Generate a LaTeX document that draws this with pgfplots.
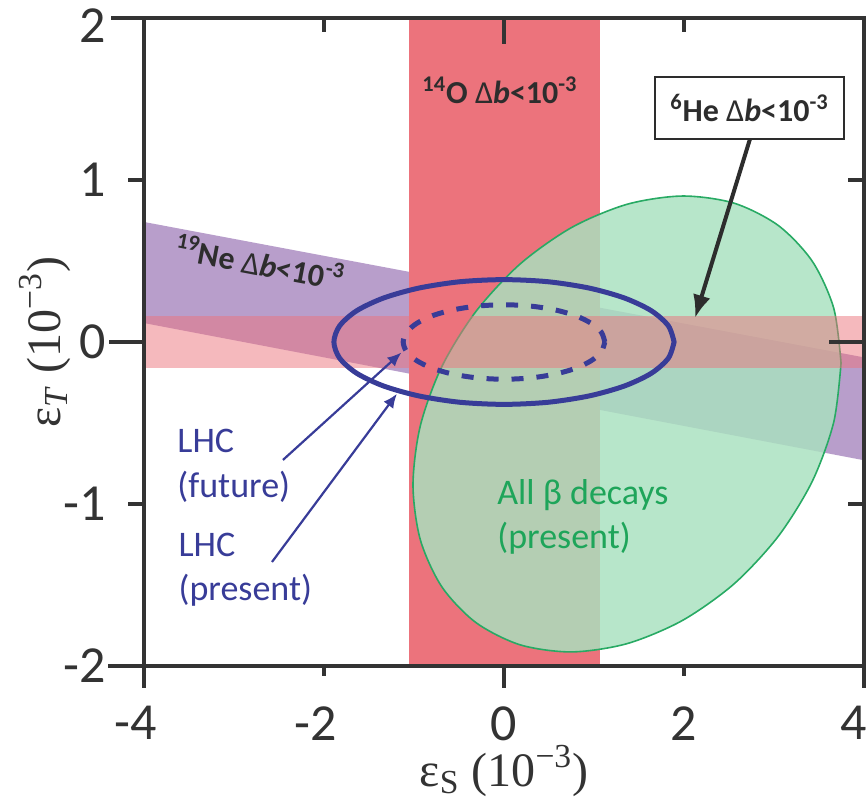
\documentclass[border=0pt]{standalone}
\usepackage{fontspec}
\setmainfont{Carlito}
\newfontfamily\serif{Liberation Serif}
\usepackage{pgfplots}
\pgfplotsset{compat=1.18}
\usetikzlibrary{arrows.meta}
\definecolor{axgray}{RGB}{51,51,51}
\definecolor{bandpurple}{RGB}{184,158,203}
\definecolor{bandred}{RGB}{236,115,124}
\definecolor{ellgreen}{RGB}{169,225,191}
\definecolor{ellgreenline}{RGB}{40,170,100}
\definecolor{lhcblue}{RGB}{56,60,152}
\definecolor{textgreen}{RGB}{30,165,90}
\definecolor{labelgray}{RGB}{45,45,45}
\begin{document}
\begin{tikzpicture}
\begin{axis}[
  name=ax, at={(0,0)}, anchor=south west,
  scale only axis, width=360pt, height=324pt,
  xmin=-4, xmax=4, ymin=-2, ymax=2,
  axis line style={line width=2.4pt, draw=axgray},
  major tick length=0pt,
  xtick={-4,-2,0,2,4}, xticklabels={\llap{-}4,\llap{-}2,0,2,\kern-10pt 4},
  ytick={-2,-1,0,1,2}, yticklabels={-2,-1,0,1,\raisebox{-4pt}[\height][0pt]{2}},
  ticklabel style={font=\fontsize{26}{26}\selectfont, text=axgray},
  xticklabel style={anchor=north, inner sep=0pt, yshift=-20pt},
  yticklabel style={anchor=east, inner sep=0pt, xshift=-19pt},
  clip=false,
  axis on top,
]
% 19Ne band
\addplot[draw=none, fill=bandpurple] coordinates {(-4,0.741) (4,-0.095) (4,-0.73) (-4,0.117)} -- cycle;
% 14O band
\addplot[draw=none, fill=bandred] coordinates {(-1.06,-2) (1.07,-2) (1.07,2) (-1.06,2)} -- cycle;
% All beta decays ellipse
\addplot[fill=ellgreen, fill opacity=0.83, draw=ellgreenline, line width=0.8pt, smooth] coordinates {
(3.745,-0.130) (3.664,0.208) (3.426,0.498) (3.048,0.719) (2.556,0.857) (1.982,0.901)
(1.367,0.850) (0.752,0.707) (0.178,0.481) (-0.314,0.187) (-0.692,-0.153) (-0.930,-0.518)
(-1.011,-0.882) (-0.930,-1.220) (-0.692,-1.510) (-0.314,-1.731) (0.178,-1.869) (0.752,-1.913)
(1.367,-1.862) (1.982,-1.719) (2.556,-1.493) (3.048,-1.199) (3.426,-0.859) (3.664,-0.494)
(3.745,-0.130)} -- cycle;
% 6He band
\addplot[draw=none, fill=bandred, fill opacity=0.5] coordinates {(-4,-0.16) (4,-0.16) (4,0.16) (-4,0.16)} -- cycle;
% LHC present
\addplot[lhcblue, line width=2.5pt, smooth] coordinates {
(1.890,0) (1.826,0.100) (1.637,0.193) (1.336,0.272) (0.945,0.333) (0.489,0.372) (0,0.385)
(-0.489,0.372) (-0.945,0.333) (-1.336,0.272) (-1.637,0.193) (-1.826,0.100) (-1.890,0)
(-1.826,-0.100) (-1.637,-0.193) (-1.336,-0.272) (-0.945,-0.333) (-0.489,-0.372) (0,-0.385)
(0.489,-0.372) (0.945,-0.333) (1.336,-0.272) (1.637,-0.193) (1.826,-0.100) (1.890,0)} -- cycle;
% LHC future
\addplot[lhcblue, line width=2.5pt, smooth, dash pattern=on 6pt off 6.5pt] coordinates {
(1.120,0) (1.082,0.060) (0.970,0.115) (0.792,0.163) (0.560,0.199) (0.290,0.222) (0,0.230)
(-0.290,0.222) (-0.560,0.199) (-0.792,0.163) (-0.970,0.115) (-1.082,0.060) (-1.120,0)
(-1.082,-0.060) (-0.970,-0.115) (-0.792,-0.163) (-0.560,-0.199) (-0.290,-0.222) (0,-0.230)
(0.290,-0.222) (0.560,-0.199) (0.792,-0.163) (0.970,-0.115) (1.082,-0.060) (1.120,0)};

% ticks
\draw[axgray, line width=2.4pt] (axis cs:-4,-2) -- ++(0pt,-11pt);
\draw[axgray, line width=2.4pt] (axis cs:4,-2) -- ++(0pt,-11pt);
\draw[axgray, line width=2.4pt] (axis cs:0,-2) -- ++(0pt,-11pt);
\draw[axgray, line width=2.4pt] (axis cs:-2,-2) -- ++(0pt,-5pt);
\draw[axgray, line width=2.4pt] (axis cs:2,-2) -- ++(0pt,-5pt);
\draw[axgray, line width=2.4pt] (axis cs:-2,2) -- ++(0pt,-7pt);
\draw[axgray, line width=2.4pt] (axis cs:2,2) -- ++(0pt,-7pt);
\draw[axgray, line width=2.4pt] (axis cs:0,2) -- ++(0pt,-13pt);
\draw[axgray, line width=2.4pt] (axis cs:-4,2) -- ++(-16.5pt,0pt);
\draw[axgray, line width=2.4pt] (axis cs:-4,-2) -- ++(-18pt,0pt);
\draw[axgray, line width=2.4pt] (axis cs:-4,0) -- ++(-17.5pt,0pt);
\draw[axgray, line width=2.4pt] (axis cs:-4,1) -- ++(-8pt,0pt);
\draw[axgray, line width=2.4pt] (axis cs:-4,-1) -- ++(-8pt,0pt);
\draw[axgray, line width=2.4pt] (axis cs:4,0) -- ++(-17.5pt,0pt);
\draw[axgray, line width=2.4pt] (axis cs:4,1) -- ++(-8pt,0pt);
\draw[axgray, line width=2.4pt] (axis cs:4,-1) -- ++(-8pt,0pt);

% arrows
\draw[-{Latex[length=11.5pt,width=9pt]}, line width=2pt, labelgray] (axis cs:2.733,1.253) -- (axis cs:2.122,0.148);
\draw[-{Latex[length=7pt,width=6pt]}, line width=1.1pt, lhcblue] (axis cs:-2.456,-0.728) -- (axis cs:-1.14,-0.065);
\draw[-{Latex[length=7pt,width=6pt]}, line width=1.1pt, lhcblue] (axis cs:-2.578,-1.358) -- (axis cs:-1.19,-0.32);

% labels
\node[anchor=base west, inner sep=0pt, text=lhcblue, font=\fontsize{18}{18}\selectfont] at (axis cs:-3.633,-0.679) {LHC};
\node[anchor=base west, inner sep=0pt, text=lhcblue, font=\fontsize{18}{18}\selectfont] at (axis cs:-3.633,-0.957) {(future)};
\node[anchor=base west, inner sep=0pt, text=lhcblue, font=\fontsize{18}{18}\selectfont] at (axis cs:-3.62,-1.327) {LHC};
\node[anchor=base west, inner sep=0pt, text=lhcblue, font=\fontsize{18}{18}\selectfont] at (axis cs:-3.62,-1.593) {(present)};
\node[anchor=base west, inner sep=0pt, text=textgreen, font=\fontsize{18}{18}\selectfont] at (axis cs:-0.078,-1.006) {All β decays};
\node[anchor=base west, inner sep=0pt, text=textgreen, font=\fontsize{18}{18}\selectfont] at (axis cs:-0.078,-1.272) {(present)};

\node[anchor=base, inner sep=0pt, text=labelgray, font=\bfseries\fontsize{16}{16}\selectfont] at (axis cs:-0.044,1.47) {\textsuperscript{14}O {\mdseries Δ}\textit{b}<10\textsuperscript{-3}};
\node[draw=labelgray, fill=white, line width=1pt, minimum width=94.5pt, minimum height=31pt, inner sep=0pt, text=labelgray, font=\bfseries\fontsize{16}{16}\selectfont] at (axis cs:2.728,1.444) {\textsuperscript{6}He {\mdseries Δ}\textit{b}<10\textsuperscript{-3}};
\node[rotate=-10.7, inner sep=0pt, text=labelgray, font=\bfseries\fontsize{16}{16}\selectfont] at (axis cs:-2.711,0.494) {\textsuperscript{19}Ne {\mdseries Δ}\textit{b}<10\textsuperscript{-3}};

\node[inner sep=0pt, text=axgray, font=\serif\fontsize{24}{24}\selectfont] at ([yshift=-52.5pt]axis cs:0,-2) {ε\textsubscript{S} (10\textsuperscript{−3})};
\node[rotate=90, inner sep=0pt, text=axgray, font=\serif\fontsize{24}{24}\selectfont] at ([xshift=-49.5pt]axis cs:-4,0) {ε\textsubscript{\textit{T}} (10\textsuperscript{−3})};
\end{axis}
\pgfresetboundingbox
\path ([shift={(-72pt,-66pt)}]ax.south west) rectangle ([shift={(361.5pt,333pt)}]ax.south west);
\end{tikzpicture}
\end{document}
